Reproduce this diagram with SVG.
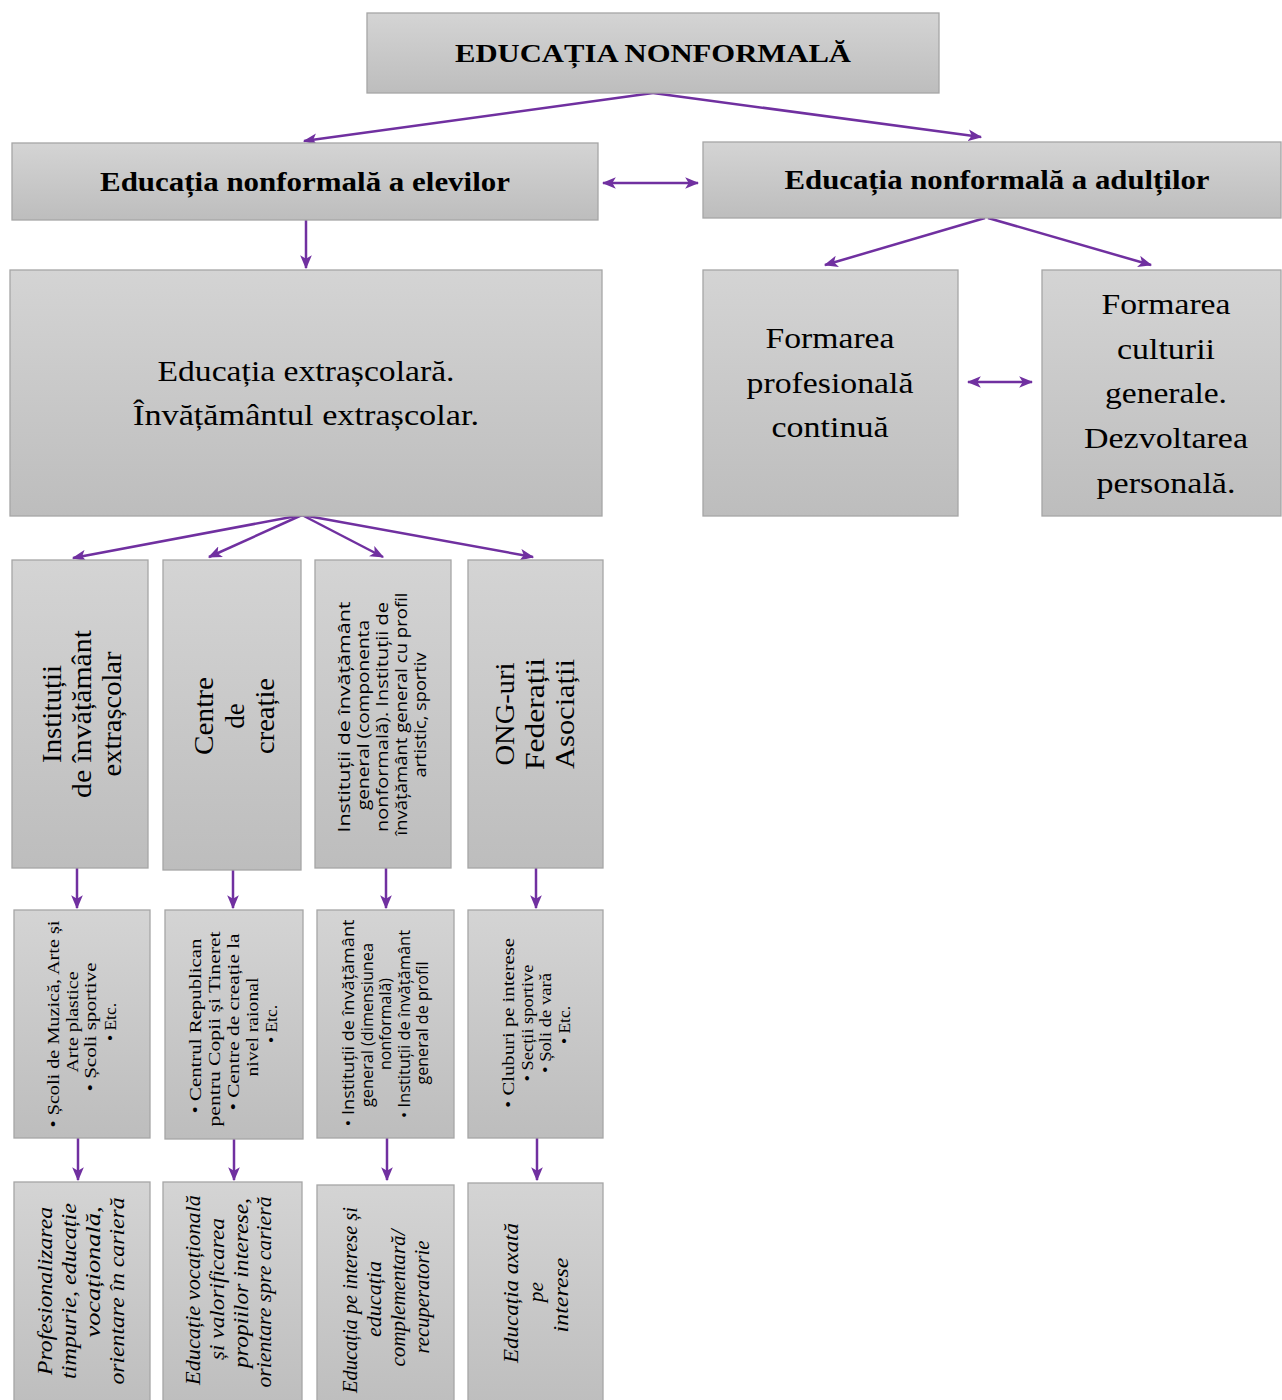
<svg xmlns="http://www.w3.org/2000/svg" width="1282" height="1400" viewBox="0 0 1282 1400">
<style>
.box{fill:url(#g);stroke:#a6a6a6;stroke-width:1.3}
.t{font-family:"Liberation Serif","Times New Roman",serif;fill:#000;text-anchor:middle}
.b{font-weight:bold}
.it{font-style:italic}
.s{font-family:"Open Sans","Liberation Sans",sans-serif;fill:#000;text-anchor:middle}
.c{stroke:#7030A0;stroke-width:2.5;fill:none;marker-end:url(#ah)}
.d{marker-start:url(#ah)}
</style>
<defs>
<linearGradient id="g" x1="0" y1="0" x2="0" y2="1">
<stop offset="0" stop-color="#d4d4d4"/>
<stop offset="1" stop-color="#bdbdbd"/>
</linearGradient>
<marker id="ah" viewBox="0 0 12 10" refX="11" refY="5" markerWidth="14" markerHeight="12" orient="auto-start-reverse" markerUnits="userSpaceOnUse">
<path d="M0,0 L12,5 L0,10 L3,5 z" fill="#7030A0"/>
</marker>
</defs>

<g id="connectors">
<path class="c" d="M653,93 L304,141"/>
<path class="c" d="M653,93 L981,137"/>
<path class="c d" d="M603,183 L698,183"/>
<path class="c" d="M306,220 L306,268"/>
<path class="c" d="M985,218 L825,265"/>
<path class="c" d="M988,218 L1151,265"/>
<path class="c d" d="M968,382 L1032,382"/>
<path class="c" d="M302,515 L73,558"/>
<path class="c" d="M302,515 L209,557"/>
<path class="c" d="M302,515 L383,557"/>
<path class="c" d="M302,515 L533,557"/>
<path class="c" d="M77,868 L77,908"/>
<path class="c" d="M233,870 L233,908"/>
<path class="c" d="M386,868 L386,908"/>
<path class="c" d="M536,868 L536,908"/>
<path class="c" d="M78,1138 L78,1180"/>
<path class="c" d="M234,1139 L234,1180"/>
<path class="c" d="M387,1138 L387,1180"/>
<path class="c" d="M537,1138 L537,1180"/>
</g>

<g id="n-title">
<rect class="box" x="367" y="13" width="572" height="80"/>
<text class="t b" x="653" y="62" font-size="25" textLength="396" lengthAdjust="spacingAndGlyphs">EDUCAȚIA NONFORMALĂ</text>
</g>

<g id="n-elevi">
<rect class="box" x="12" y="143" width="586" height="77"/>
<text class="t b" x="305" y="191" font-size="27" textLength="410" lengthAdjust="spacingAndGlyphs">Educația nonformală a elevilor</text>
</g>

<g id="n-adulti">
<rect class="box" x="703" y="142" width="578" height="76"/>
<text class="t b" x="997" y="189" font-size="27" textLength="425" lengthAdjust="spacingAndGlyphs">Educația nonformală a adulților</text>
</g>

<g id="n-extrascolar">
<rect class="box" x="10" y="270" width="592" height="246"/>
<text class="t" x="306" y="381" font-size="30" textLength="297" lengthAdjust="spacingAndGlyphs">Educația extrașcolară.</text>
<text class="t" x="306" y="425" font-size="30" textLength="346" lengthAdjust="spacingAndGlyphs">Învățământul extrașcolar.</text>
</g>

<g id="n-profesionala">
<rect class="box" x="703" y="270" width="255" height="246"/>
<text class="t" x="830" y="348" font-size="30" textLength="129" lengthAdjust="spacingAndGlyphs">Formarea</text>
<text class="t" x="830" y="393" font-size="30" textLength="167" lengthAdjust="spacingAndGlyphs">profesională</text>
<text class="t" x="830" y="437" font-size="30" textLength="117" lengthAdjust="spacingAndGlyphs">continuă</text>
</g>

<g id="n-cultura">
<rect class="box" x="1042" y="270" width="239" height="246"/>
<text class="t" x="1166" y="314" font-size="30" textLength="129" lengthAdjust="spacingAndGlyphs">Formarea</text>
<text class="t" x="1166" y="359" font-size="30" textLength="98" lengthAdjust="spacingAndGlyphs">culturii</text>
<text class="t" x="1166" y="403" font-size="30" textLength="122" lengthAdjust="spacingAndGlyphs">generale.</text>
<text class="t" x="1166" y="448" font-size="30" textLength="164" lengthAdjust="spacingAndGlyphs">Dezvoltarea</text>
<text class="t" x="1166" y="493" font-size="30" textLength="139" lengthAdjust="spacingAndGlyphs">personală.</text>
</g>

<g id="n-institutii-extrascolar">
<rect class="box" x="12" y="560" width="136" height="308"/>
<text class="t" font-size="27" transform="translate(61,714) rotate(-90)" textLength="98" lengthAdjust="spacingAndGlyphs">Instituții</text>
<text class="t" font-size="27" transform="translate(91,714) rotate(-90)" textLength="168" lengthAdjust="spacingAndGlyphs">de învățământ</text>
<text class="t" font-size="27" transform="translate(121,714) rotate(-90)" textLength="125" lengthAdjust="spacingAndGlyphs">extrașcolar</text>
</g>

<g id="n-centre-creatie">
<rect class="box" x="163" y="560" width="138" height="310"/>
<text class="t" font-size="27" transform="translate(213,716) rotate(-90)" textLength="78" lengthAdjust="spacingAndGlyphs">Centre</text>
<text class="t" font-size="27" transform="translate(243.5,716) rotate(-90)">de</text>
<text class="t" font-size="27" transform="translate(274,716) rotate(-90)" textLength="76" lengthAdjust="spacingAndGlyphs">creație</text>
</g>

<g id="n-institutii-general">
<rect class="box" x="315" y="560" width="136" height="308"/>
<text class="s" font-size="16.5" transform="translate(350,717) rotate(-90)" textLength="231" lengthAdjust="spacingAndGlyphs">Instituții  de învățământ</text>
<text class="s" font-size="16.5" transform="translate(369,715) rotate(-90)" textLength="190" lengthAdjust="spacingAndGlyphs">general (componenta</text>
<text class="s" font-size="16.5" transform="translate(388,717) rotate(-90)" textLength="230" lengthAdjust="spacingAndGlyphs">nonformală). Instituții de</text>
<text class="s" font-size="16.5" transform="translate(407,714) rotate(-90)" textLength="243" lengthAdjust="spacingAndGlyphs">învățământ general cu profil</text>
<text class="s" font-size="16.5" transform="translate(426,715) rotate(-90)" textLength="125" lengthAdjust="spacingAndGlyphs">artistic, sportiv</text>
</g>

<g id="n-ong">
<rect class="box" x="468" y="560" width="135" height="308"/>
<text class="t" font-size="27" transform="translate(514,714) rotate(-90)" textLength="103" lengthAdjust="spacingAndGlyphs">ONG-uri</text>
<text class="t" font-size="27" transform="translate(544,714) rotate(-90)" textLength="112" lengthAdjust="spacingAndGlyphs">Federații</text>
<text class="t" font-size="27" transform="translate(574,714) rotate(-90)" textLength="110" lengthAdjust="spacingAndGlyphs">Asociații</text>
</g>

<g id="n-scoli">
<rect class="box" x="14" y="910" width="136" height="228"/>
<text class="t" font-size="17.5" transform="translate(59,1024) rotate(-90)" textLength="207" lengthAdjust="spacingAndGlyphs">• Școli de Muzică, Arte și</text>
<text class="t" font-size="17.5" transform="translate(78,1022) rotate(-90)" textLength="101" lengthAdjust="spacingAndGlyphs">Arte plastice</text>
<text class="t" font-size="17.5" transform="translate(96,1027) rotate(-90)" textLength="129" lengthAdjust="spacingAndGlyphs">• Școli sportive</text>
<text class="t" font-size="17.5" transform="translate(116,1022) rotate(-90)">• Etc.</text>
</g>

<g id="n-centrul">
<rect class="box" x="165" y="910" width="138" height="229"/>
<text class="t" font-size="17.5" transform="translate(201,1026) rotate(-90)" textLength="175" lengthAdjust="spacingAndGlyphs">• Centrul Republican</text>
<text class="t" font-size="17.5" transform="translate(220,1029) rotate(-90)" textLength="195" lengthAdjust="spacingAndGlyphs">pentru Copii și Tineret</text>
<text class="t" font-size="17.5" transform="translate(239,1022) rotate(-90)" textLength="177" lengthAdjust="spacingAndGlyphs">• Centre de creație la</text>
<text class="t" font-size="17.5" transform="translate(258,1027) rotate(-90)" textLength="99" lengthAdjust="spacingAndGlyphs">nivel raional</text>
<text class="t" font-size="17.5" transform="translate(277,1024) rotate(-90)">• Etc.</text>
</g>

<g id="n-institutii-dim">
<rect class="box" x="317" y="910" width="137" height="228"/>
<text class="s" font-size="16.5" transform="translate(354,1023) rotate(-90)" textLength="207" lengthAdjust="spacingAndGlyphs">• Instituții de învățământ</text>
<text class="s" font-size="16.5" transform="translate(373,1025) rotate(-90)" textLength="164" lengthAdjust="spacingAndGlyphs">general (dimensiunea</text>
<text class="s" font-size="16.5" transform="translate(391,1024) rotate(-90)" textLength="92" lengthAdjust="spacingAndGlyphs">nonformală)</text>
<text class="s" font-size="16.5" transform="translate(410,1024) rotate(-90)" textLength="188" lengthAdjust="spacingAndGlyphs">• Instituții de învățământ</text>
<text class="s" font-size="16.5" transform="translate(428,1023) rotate(-90)" textLength="123" lengthAdjust="spacingAndGlyphs">general de profil</text>
</g>

<g id="n-cluburi">
<rect class="box" x="468" y="910" width="135" height="228"/>
<text class="t" font-size="17.5" transform="translate(514,1023) rotate(-90)" textLength="170" lengthAdjust="spacingAndGlyphs">• Cluburi pe interese</text>
<text class="t" font-size="17.5" transform="translate(532.5,1023) rotate(-90)" textLength="117" lengthAdjust="spacingAndGlyphs">• Secții sportive</text>
<text class="t" font-size="17.5" transform="translate(551,1023) rotate(-90)" textLength="100" lengthAdjust="spacingAndGlyphs">• Șoli de vară</text>
<text class="t" font-size="17.5" transform="translate(569.5,1025) rotate(-90)">• Etc.</text>
</g>

<g id="n-profesionalizarea">
<rect class="box" x="14" y="1182" width="136" height="230"/>
<text class="t it" font-size="21.5" transform="translate(52,1291) rotate(-90)" textLength="168" lengthAdjust="spacingAndGlyphs">Profesionalizarea</text>
<text class="t it" font-size="21.5" transform="translate(76,1291) rotate(-90)" textLength="176" lengthAdjust="spacingAndGlyphs">timpurie, educație</text>
<text class="t it" font-size="21.5" transform="translate(100,1272) rotate(-90)" textLength="131" lengthAdjust="spacingAndGlyphs">vocațională,</text>
<text class="t it" font-size="21.5" transform="translate(124,1291) rotate(-90)" textLength="187" lengthAdjust="spacingAndGlyphs">orientare în carieră</text>
</g>

<g id="n-vocationala">
<rect class="box" x="163" y="1182" width="139" height="230"/>
<text class="t it" font-size="21.5" transform="translate(200,1290) rotate(-90)" textLength="190" lengthAdjust="spacingAndGlyphs">Educație vocațională</text>
<text class="t it" font-size="21.5" transform="translate(224,1289) rotate(-90)" textLength="142" lengthAdjust="spacingAndGlyphs">și valorificarea</text>
<text class="t it" font-size="21.5" transform="translate(248,1283) rotate(-90)" textLength="170" lengthAdjust="spacingAndGlyphs">propiilor interese,</text>
<text class="t it" font-size="21.5" transform="translate(271,1292) rotate(-90)" textLength="191" lengthAdjust="spacingAndGlyphs">orientare spre carieră</text>
</g>

<g id="n-interese-complementara">
<rect class="box" x="317" y="1185" width="137" height="230"/>
<text class="t it" font-size="21.5" transform="translate(357,1300) rotate(-90)" textLength="186" lengthAdjust="spacingAndGlyphs">Educația pe interese și</text>
<text class="t it" font-size="21.5" transform="translate(381,1299) rotate(-90)" textLength="76" lengthAdjust="spacingAndGlyphs">educația</text>
<text class="t it" font-size="21.5" transform="translate(405,1298) rotate(-90)" textLength="137" lengthAdjust="spacingAndGlyphs">complementară/</text>
<text class="t it" font-size="21.5" transform="translate(429,1297) rotate(-90)" textLength="113" lengthAdjust="spacingAndGlyphs">recuperatorie</text>
</g>

<g id="n-axata">
<rect class="box" x="468" y="1183" width="135" height="230"/>
<text class="t it" font-size="21.5" transform="translate(518,1293) rotate(-90)" textLength="140" lengthAdjust="spacingAndGlyphs">Educația axată</text>
<text class="t it" font-size="21.5" transform="translate(543,1292) rotate(-90)">pe</text>
<text class="t it" font-size="21.5" transform="translate(568,1295) rotate(-90)" textLength="75" lengthAdjust="spacingAndGlyphs">interese</text>
</g>
</svg>
